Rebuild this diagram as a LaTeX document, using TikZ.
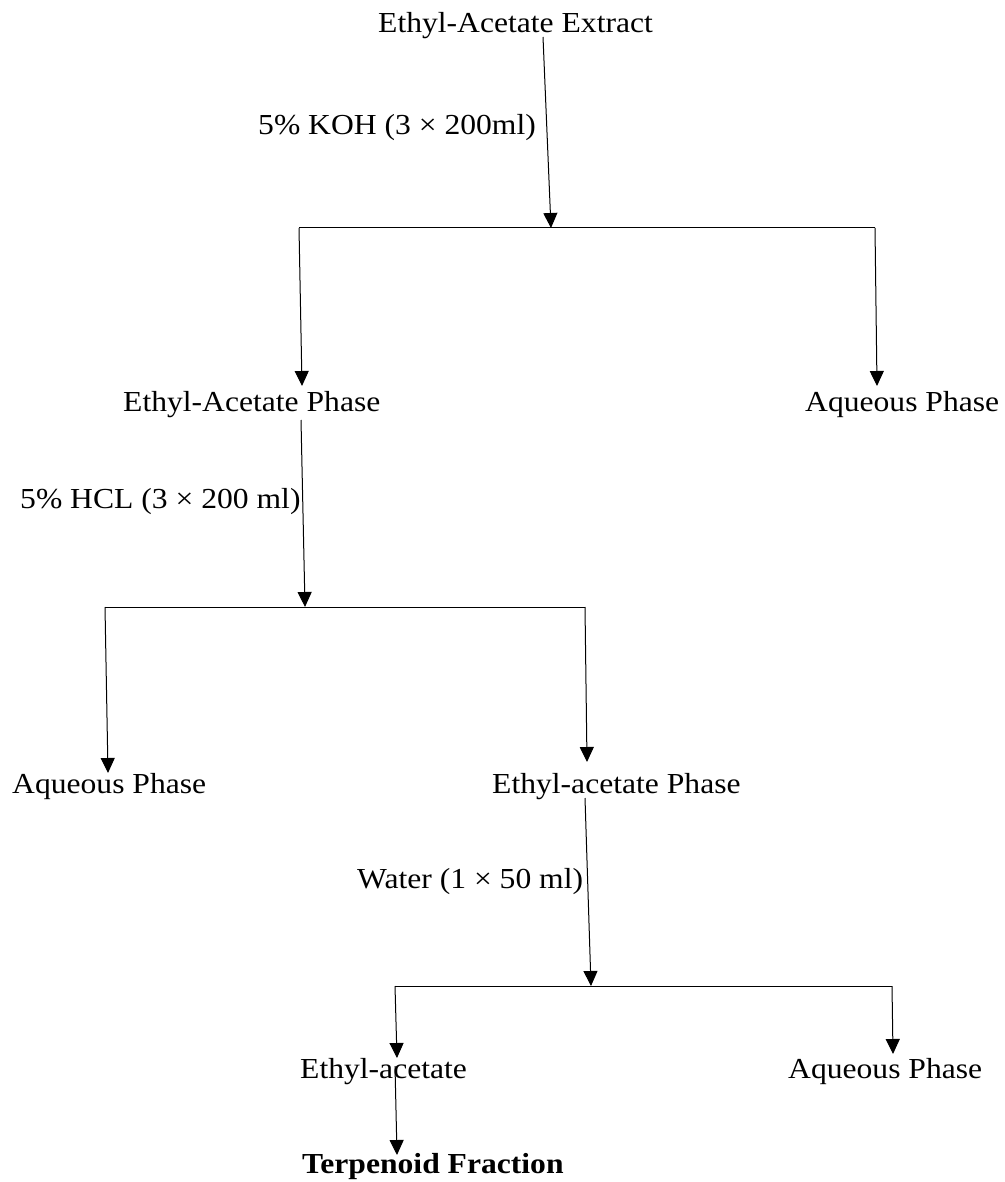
\documentclass[tikz,border=0pt]{standalone}
\usepackage{fontspec}
\setmainfont{Liberation Serif}
\usepackage{graphicx}
\usetikzlibrary{arrows.meta}
\newcommand\wtext[1]{\scalebox{1.09}[1.0]{#1}}
\tikzset{
  lbl/.style={anchor=base west, inner sep=0pt, font=\fontsize{29}{34}\selectfont},
  arr/.style={-{Triangle[width=14pt,length=15pt]}, line width=1pt},
  bar/.style={line width=1pt}
}
\begin{document}
\begin{tikzpicture}[x=1pt,y=-1pt]
\useasboundingbox[fill=white] (0,0) rectangle (1004,1182);
% texts
\node[lbl] (ext) at (378,33) {\wtext{Ethyl-Acetate Extract}};
\node[lbl] (koh) at (258,135) {\wtext{5\% KOH (3 × 200ml)}};
\node[lbl] (eap) at (123,411) {\wtext{Ethyl-Acetate Phase}};
\node[lbl] (aq1) at (805,411) {\wtext{Aqueous Phase}};
\node[lbl] (hcl) at (20,508) {\wtext{5\% HCL (3 × 200 ml)}};
\node[lbl] (aq2) at (12,793) {\wtext{Aqueous Phase}};
\node[lbl] (eap2) at (492,793) {\wtext{Ethyl-acetate Phase}};
\node[lbl] (water) at (357,888) {\wtext{Water (1 × 50 ml)}};
\node[lbl] (ea) at (300,1078) {\wtext{Ethyl-acetate}};
\node[lbl] (aq3) at (788,1078) {\wtext{Aqueous Phase}};
\node[lbl,font=\fontsize{29}{34}\selectfont\bfseries] (terp) at (302,1173) {\wtext{Terpenoid Fraction}};
% coordinates
\coordinate (s1) at (543,37);
\coordinate (j1) at (551,228);
\coordinate (b1l) at (299,228);
\coordinate (b1r) at (875,228);
\coordinate (t1l) at (302,386);
\coordinate (t1r) at (877,386);
\coordinate (s2) at (301,420);
\coordinate (j2) at (305,607);
\coordinate (b2l) at (105,607);
\coordinate (b2r) at (585,607);
\coordinate (t2l) at (108,773);
\coordinate (t2r) at (587,762);
\coordinate (s3) at (585,798);
\coordinate (j3) at (591,986);
\coordinate (b3l) at (395,986);
\coordinate (b3r) at (892,986);
\coordinate (t3l) at (397,1058);
\coordinate (t3r) at (893,1054);
\coordinate (s4) at (395,1066);
\coordinate (t4) at (397,1155);
% connectors
\draw[arr] (s1) -- (j1);
\draw[bar] (b1l) -- (b1r);
\draw[arr] (b1l) -- (t1l);
\draw[arr] (b1r) -- (t1r);
\draw[arr] (s2) -- (j2);
\draw[bar] (b2l) -- (b2r);
\draw[arr] (b2l) -- (t2l);
\draw[arr] (b2r) -- (t2r);
\draw[arr] (s3) -- (j3);
\draw[bar] (b3l) -- (b3r);
\draw[arr] (b3l) -- (t3l);
\draw[arr] (b3r) -- (t3r);
\draw[arr] (s4) -- (t4);
\end{tikzpicture}
\end{document}
